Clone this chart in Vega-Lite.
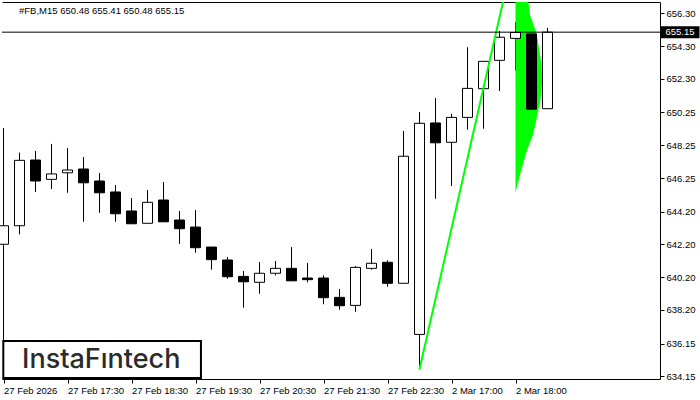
{
  "$schema": "https://vega.github.io/schema/vega-lite/v6.json",
  "width": 658,
  "height": 377,
  "autosize": {"type": "none"},
  "padding": {"left": 2, "top": 2, "right": 40, "bottom": 21},
  "background": "white",
  "title": {
    "text": "#FB,M15  650.48 655.41 650.48 655.15",
    "anchor": "start",
    "frame": "group",
    "offset": -13,
    "dx": 17,
    "font": "Liberation Sans",
    "fontSize": 9.5,
    "fontWeight": "normal",
    "color": "black"
  },
  "config": {
    "view": {"stroke": null},
    "axis": {
      "labelFont": "Liberation Sans",
      "labelFontSize": 9.5,
      "labelColor": "black",
      "tickColor": "black",
      "tickSize": 4,
      "grid": false,
      "domain": true,
      "domainColor": "black",
      "title": null,
      "labelOverlap": false,
      "labelFlush": false,
      "labelBound": false
    }
  },
  "resolve": {"axis": {"x": "independent"}},
  "datasets": {
    "candles": [
      {"i": 0, "o": 642.21, "h": 649.30, "l": 636.00, "c": 643.34},
      {"i": 1, "o": 643.34, "h": 647.80, "l": 642.82, "c": 647.33},
      {"i": 2, "o": 647.35, "h": 647.90, "l": 645.40, "c": 646.07},
      {"i": 3, "o": 646.17, "h": 648.33, "l": 645.58, "c": 646.50},
      {"i": 4, "o": 646.57, "h": 648.08, "l": 645.35, "c": 646.74},
      {"i": 5, "o": 646.80, "h": 647.53, "l": 643.58, "c": 645.96},
      {"i": 6, "o": 646.07, "h": 646.56, "l": 644.13, "c": 645.35},
      {"i": 7, "o": 645.40, "h": 645.83, "l": 643.58, "c": 644.07},
      {"i": 8, "o": 644.24, "h": 645.03, "l": 643.46, "c": 643.46},
      {"i": 9, "o": 643.49, "h": 645.52, "l": 643.49, "c": 644.77},
      {"i": 10, "o": 644.91, "h": 646.01, "l": 643.58, "c": 643.58},
      {"i": 11, "o": 643.69, "h": 644.24, "l": 642.24, "c": 643.16},
      {"i": 12, "o": 643.26, "h": 644.30, "l": 641.69, "c": 642.00},
      {"i": 13, "o": 642.04, "h": 642.04, "l": 640.66, "c": 641.27},
      {"i": 14, "o": 641.25, "h": 641.43, "l": 640.11, "c": 640.23},
      {"i": 15, "o": 640.25, "h": 640.58, "l": 638.34, "c": 639.92},
      {"i": 16, "o": 639.89, "h": 641.13, "l": 639.19, "c": 640.44},
      {"i": 17, "o": 640.44, "h": 641.19, "l": 640.31, "c": 640.74},
      {"i": 18, "o": 640.74, "h": 642.04, "l": 639.98, "c": 639.98},
      {"i": 19, "o": 640.15, "h": 641.07, "l": 639.89, "c": 640.05},
      {"i": 20, "o": 640.15, "h": 640.31, "l": 638.55, "c": 638.95},
      {"i": 21, "o": 638.97, "h": 639.48, "l": 638.22, "c": 638.46},
      {"i": 22, "o": 638.48, "h": 640.88, "l": 638.09, "c": 640.80},
      {"i": 23, "o": 640.74, "h": 641.92, "l": 640.66, "c": 641.05},
      {"i": 24, "o": 641.11, "h": 641.23, "l": 639.62, "c": 639.83},
      {"i": 25, "o": 639.83, "h": 649.12, "l": 639.83, "c": 647.58},
      {"i": 26, "o": 636.71, "h": 650.28, "l": 634.58, "c": 649.59},
      {"i": 27, "o": 649.61, "h": 651.13, "l": 644.99, "c": 648.40},
      {"i": 28, "o": 648.43, "h": 650.16, "l": 645.76, "c": 649.95},
      {"i": 29, "o": 649.95, "h": 654.23, "l": 649.20, "c": 651.72},
      {"i": 30, "o": 651.70, "h": 653.37, "l": 649.26, "c": 653.37},
      {"i": 31, "o": 653.43, "h": 655.22, "l": 651.56, "c": 654.84},
      {"i": 32, "o": 654.77, "h": 655.77, "l": 652.81, "c": 655.13},
      {"i": 33, "o": 655.04, "h": 655.15, "l": 650.06, "c": 650.45},
      {"i": 34, "o": 650.48, "h": 655.41, "l": 650.48, "c": 655.15}
    ],
    "pennant": [
      {"p": 645.37, "s": 32, "r": 32.0},
      {"p": 646.92, "s": 32, "r": 32.41},
      {"p": 647.96, "s": 32, "r": 32.72},
      {"p": 648.87, "s": 32, "r": 33.09},
      {"p": 649.97, "s": 32, "r": 33.34},
      {"p": 651.01, "s": 32, "r": 33.56},
      {"p": 652.05, "s": 32, "r": 33.66},
      {"p": 653.08, "s": 32, "r": 33.64},
      {"p": 654.18, "s": 32, "r": 33.47},
      {"p": 655.10, "s": 32, "r": 33.31},
      {"p": 656.20, "s": 32, "r": 32.91},
      {"p": 657.11, "s": 32, "r": 32.79}
    ],
    "pole": [
      {"i": 26, "p": 634.58},
      {"i": 31.3, "p": 657.34}
    ]
  },
  "layer": [
    {
      "data": {"name": "candles"},
      "mark": {"type": "rule", "color": "black", "strokeWidth": 1},
      "encoding": {
        "x": {
          "field": "i",
          "type": "quantitative",
          "scale": {"domain": [-0.09375, 41.03125], "nice": false, "zero": false, "padding": 0},
          "axis": {
            "orient": "bottom",
            "values": [0, 4, 8, 12, 16, 20, 24, 28, 32],
            "tickCount": 20,
            "labelAlign": "left",
            "labelPadding": 2,
            "labelOverlap": false,
            "labelExpr": "['27 Feb 2026','27 Feb 17:30','27 Feb 18:30','27 Feb 19:30','27 Feb 20:30','27 Feb 21:30','27 Feb 22:30','2 Mar 17:00','2 Mar 18:00'][round(datum.value/4)]"
          }
        },
        "y": {
          "field": "l",
          "type": "quantitative",
          "scale": {"domain": [633.99, 656.99], "nice": false, "zero": false, "padding": 0},
          "axis": {
            "orient": "right",
            "values": [634.15, 636.15, 638.20, 640.20, 642.20, 644.20, 646.25, 648.25, 650.25, 652.30, 654.30, 656.30],
            "tickCount": 20,
            "format": ".2f",
            "labelPadding": 2,
            "labelOverlap": false
          }
        },
        "y2": {"field": "h"}
      }
    },
    {
      "data": {"name": "pennant"},
      "mark": {"type": "area", "orient": "horizontal", "color": "#00FF00", "clip": true},
      "encoding": {
        "y": {"field": "p", "type": "quantitative"},
        "x": {
          "field": "s",
          "type": "quantitative",
          "axis": {"orient": "top", "labels": false, "ticks": false, "domain": true, "domainColor": "black"}
        },
        "x2": {"field": "r"}
      }
    },
    {
      "data": {"name": "candles"},
      "mark": {"type": "bar", "size": 10, "stroke": "black", "strokeWidth": 1},
      "encoding": {
        "x": {"field": "i", "type": "quantitative", "axis": null},
        "y": {"field": "o", "type": "quantitative"},
        "y2": {"field": "c"},
        "fill": {"condition": {"test": "datum.c >= datum.o", "value": "white"}, "value": "black"}
      }
    },
    {
      "data": {"name": "pole"},
      "mark": {"type": "line", "color": "#00FF00", "strokeWidth": 2, "clip": true},
      "encoding": {
        "x": {"field": "i", "type": "quantitative", "axis": null},
        "y": {"field": "p", "type": "quantitative"}
      }
    },
    {
      "data": {"values": [{"v": 655.15}]},
      "mark": {"type": "rule", "color": "black", "strokeWidth": 1},
      "encoding": {"y": {"field": "v", "type": "quantitative"}}
    },
    {
      "data": {"values": [{"v": 655.15, "a": 41.09, "b": 43.5, "m": 42.28}]},
      "layer": [
        {
          "mark": {"type": "rule", "color": "black", "strokeWidth": 12, "strokeCap": "butt", "clip": false},
          "encoding": {
            "x": {"field": "a", "type": "quantitative", "axis": null},
            "x2": {"field": "b"},
            "y": {"field": "v", "type": "quantitative"}
          }
        },
        {
          "mark": {"type": "text", "color": "white", "font": "Liberation Sans", "fontSize": 9.5, "align": "center", "baseline": "middle", "clip": false},
          "encoding": {
            "x": {"field": "m", "type": "quantitative", "axis": null},
            "y": {"field": "v", "type": "quantitative"},
            "text": {"field": "v", "type": "quantitative", "format": ".2f"}
          }
        }
      ]
    },
    {
      "data": {"values": [{"x1": -0.0125, "x2": 12.34, "y1": 636.31, "y2": 634.05, "tx": 6.11, "ty": 634.66, "t": "InstaFıntech"}]},
      "layer": [
        {
          "mark": {"type": "rect", "fill": "white", "stroke": "black", "strokeWidth": 2},
          "encoding": {
            "x": {"field": "x1", "type": "quantitative", "axis": null},
            "x2": {"field": "x2"},
            "y": {"field": "y1", "type": "quantitative"},
            "y2": {"field": "y2"}
          }
        },
        {
          "mark": {"type": "text", "color": "#2b2b2b", "font": "Inter", "fontSize": 27, "fontWeight": 500, "align": "center", "baseline": "alphabetic"},
          "encoding": {
            "x": {"field": "tx", "type": "quantitative", "axis": null},
            "y": {"field": "ty", "type": "quantitative"},
            "text": {"field": "t"}
          }
        }
      ]
    }
  ]
}
